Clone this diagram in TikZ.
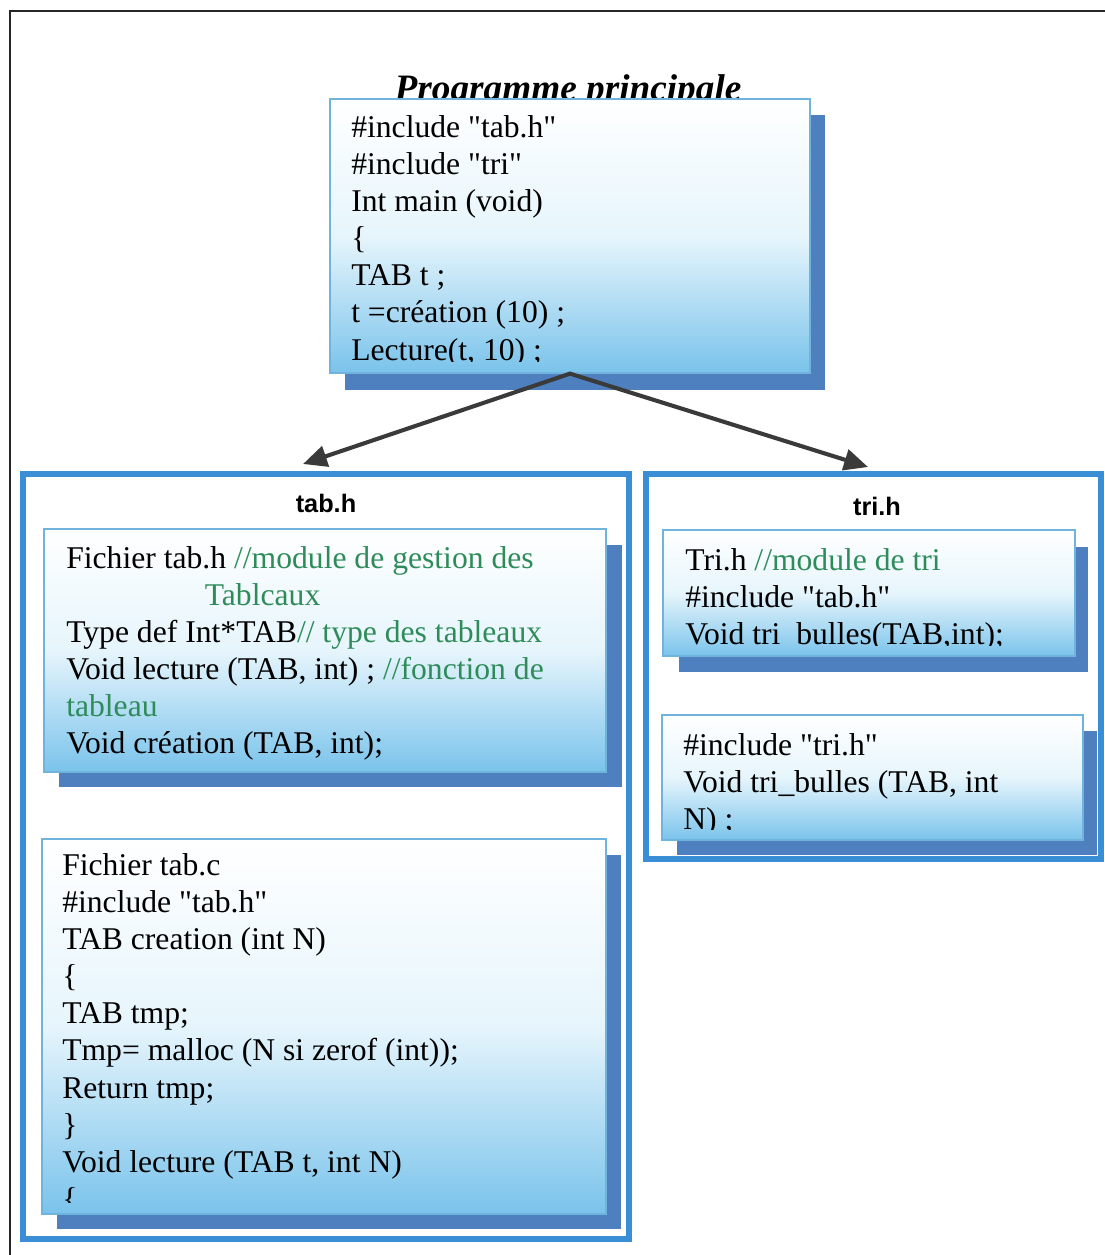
\documentclass[tikz,border=0pt]{standalone}
\usepackage{fontspec}
\setmainfont{Liberation Serif}[Ligatures=TeXOff]
\newfontfamily\headsans{Liberation Sans}
\usetikzlibrary{arrows.meta,fit}

\definecolor{frameblue}{RGB}{58,142,214}
\definecolor{shadeblue}{RGB}{78,127,190}
\definecolor{edgeblue}{RGB}{112,180,222}
\definecolor{skyfill}{RGB}{122,195,235}
\definecolor{paleblue}{RGB}{230,245,252}
\definecolor{cmtgreen}{RGB}{47,140,90}
\definecolor{arrowgray}{RGB}{58,58,58}

\begin{document}
\begin{tikzpicture}[x=0.025cm, y=-0.025cm,
  frame/.style={draw=frameblue, line width=4.9pt, inner sep=0pt},
  panel/.style={draw=edgeblue, line width=0.9pt, inner sep=0pt,
    top color=white, bottom color=skyfill, middle color=paleblue},
  backshadow/.style={fill=shadeblue, draw=none, inner sep=0pt},
  code/.style={anchor=north west, inner sep=0pt, align=left,
    font=\fontsize{22.5}{26.4}\selectfont},
  heading/.style={anchor=base, inner sep=0pt,
    font=\headsans\bfseries\fontsize{18}{21}\selectfont},
  maintitle/.style={anchor=base, inner sep=0pt,
    font=\bfseries\itshape\fontsize{26.5}{30}\selectfont},
  link/.style={draw=arrowgray, line width=2.9pt, line join=miter,
    {Triangle[length=17pt,width=15pt]}-{Triangle[length=17pt,width=15pt]}}
]
\useasboundingbox (0,0) rectangle (1104,1255);
\fill[white] (0,0) rectangle (1104,1255);

% page border (left and top edges)
\draw[black!85, line width=1.8pt] (10,1260) -- (10,11) -- (1110,11);

% ---------- main program ----------
\node[maintitle] (titlemain) at (568,101) {Programme principale};
\node[backshadow, fit={(345,115)(825,390)}] (mainshadow) {};
\node[panel, fit={(330,99)(810,373)}] (mainbox) {};
\begin{scope}
  \clip (330,99) rectangle (810,361);
  \node[code] (maintext) at (351,111) {\strut\#include "tab.h"\\
\#include "tri"\\
Int main (void)\\
\{\\
TAB t ;\\
t =création (10) ;\\
Lecture(t, 10) ;};
\end{scope}

% ---------- module frames ----------
\node[frame, fit={(23,474)(629,1239)}] (tabframe) {};
\node[frame, fit={(646,474)(1101,859)}] (triframe) {};
\node[heading] (tabhead) at (326,512) {tab.h};
\node[heading] (trihead) at (877,515) {tri.h};

% connectors
\coordinate (tabtip) at (303,464);
\coordinate (tritip) at (868,467);
\draw[link] (tabtip) -- (mainbox.south) -- (tritip);

% ---------- tab.h ----------
\node[backshadow, fit={(59,545)(622,787)}] (tabhshadow) {};
\node[panel, fit={(44,529)(606,772)}] (tabhbox) {};
\node[code] (tabhtext) at (66,542) {\strut Fichier tab.h {\color{cmtgreen}//module de gestion des}\\
\hspace*{98.5pt}{\color{cmtgreen}Tablcaux}\\
Type def Int*TAB{\color{cmtgreen}// type des tableaux}\\
Void lecture (TAB, int) ; {\color{cmtgreen}//fonction de}\\
{\color{cmtgreen}tableau}\\
Void création (TAB, int);};

% ---------- tab.c ----------
\node[backshadow, fit={(57,855)(621,1229)}] (tabcshadow) {};
\node[panel, fit={(42,839)(606,1214)}] (tabcbox) {};
\begin{scope}
  \clip (42,839) rectangle (606,1202);
  \node[code] (tabctext) at (62,849) {\strut Fichier tab.c\\
\#include "tab.h"\\
TAB creation (int N)\\
\{\\
TAB tmp;\\
Tmp= malloc (N si zerof (int));\\
Return tmp;\\
\}\\
Void lecture (TAB t, int N)\\
\{};
\end{scope}

% ---------- tri.h ----------
\node[backshadow, fit={(679,547)(1088,672)}] (trihshadow) {};
\node[panel, fit={(663,530)(1075,656)}] (trihbox) {};
\begin{scope}
  \clip (663,530) rectangle (1075,645);
  \node[code] (trihtext) at (685,544) {\strut Tri.h {\color{cmtgreen}//module de tri}\\
\#include "tab.h"\\
Void tri\_bulles(TAB,int);};
\end{scope}

% ---------- tri.c ----------
\node[backshadow, fit={(677,731)(1097,855)}] (tricshadow) {};
\node[panel, fit={(662,715)(1083,840)}] (tricbox) {};
\begin{scope}
  \clip (662,715) rectangle (1083,829);
  \node[code] (trictext) at (683,729) {\strut\#include "tri.h"\\
Void tri\_bulles (TAB, int\\
N) ;};
\end{scope}
\end{tikzpicture}
\end{document}
